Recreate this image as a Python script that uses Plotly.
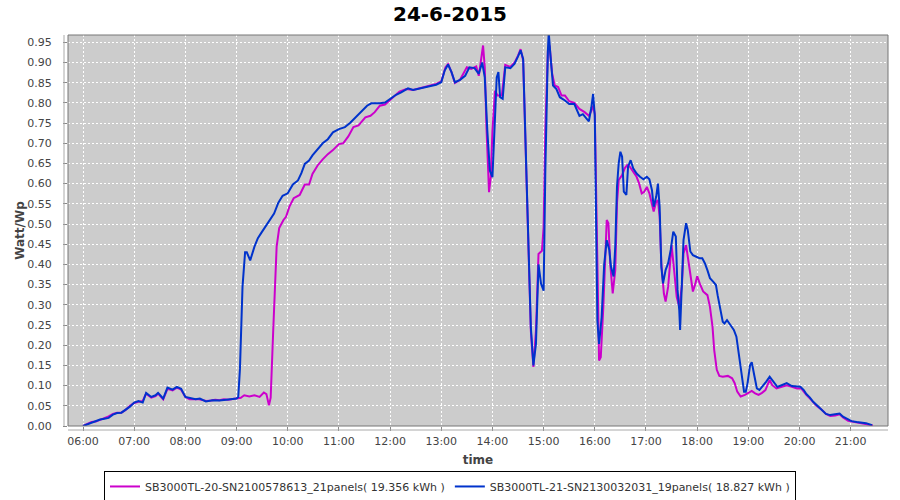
import plotly.graph_objects as go

DAY = "2015-06-24 "
TITLE = "24-6-2015"
NAME_M = "SB3000TL-20-SN2100578613_21panels( 19.356 kWh )"
NAME_B = "SB3000TL-21-SN2130032031_19panels( 18.827 kWh )"

m_time = ["06:00","06:05","06:10","06:15","06:20","06:25","06:30","06:35","06:40","06:45","06:50","06:55",
          "07:00","07:05","07:10","07:14","07:20","07:25","07:28","07:34","07:39","07:45","07:50","07:55",
          "08:00","08:05","08:10","08:15","08:20","08:25","08:30","08:35","08:40","08:45","08:50","08:55",
          "09:00","09:05","09:09","09:15","09:21","09:27","09:32","09:35","09:38","09:40","09:43","09:45","09:47","09:50","09:55","09:58",
          "10:02","10:07","10:14","10:20","10:25","10:29","10:35","10:41","10:47","10:53",
          "11:00","11:05","11:11","11:17","11:23","11:31","11:37","11:42","11:48","11:54",
          "12:00","12:05","12:11","12:19","12:27","12:36","12:46","12:54",
          "13:00","13:05","13:08","13:12","13:16","13:22","13:30","13:35","13:41","13:44","13:49","13:51","13:53","13:56","13:58",
          "14:00","14:03","14:06","14:11","14:15","14:21","14:26","14:30","14:33","14:36","14:39","14:42","14:45","14:48","14:51","14:54","14:58",
          "15:00","15:02","15:05","15:07","15:10","15:13","15:17","15:21","15:25","15:30","15:36","15:42","15:48","15:53","15:56","15:58",
          "16:00","16:01","16:03","16:05","16:07","16:10","16:14","16:16","16:18","16:21","16:24","16:26","16:28","16:32","16:35","16:38","16:41","16:45","16:49","16:52","16:55","16:58",
          "17:01","17:04","17:07","17:09","17:12","17:14","17:16","17:18","17:21","17:23","17:26","17:28","17:30","17:33","17:36","17:39","17:42","17:44","17:47","17:49","17:52","17:55","17:58",
          "18:00","18:03","18:07","18:12","18:15","18:18","18:20","18:23","18:26","18:30","18:36","18:41","18:44","18:47","18:51","18:56",
          "19:00","19:04","19:08","19:12","19:16","19:20","19:25","19:28","19:33","19:39","19:45","19:51","19:57",
          "20:02","20:08","20:14","20:20","20:26","20:31","20:36","20:42","20:47","20:51","20:57",
          "21:03","21:11","21:19","21:26"]
m_val = [0.000,0.006,0.010,0.011,0.015,0.018,0.024,0.030,0.033,0.033,0.040,0.050,
         0.057,0.060,0.062,0.080,0.070,0.074,0.080,0.066,0.092,0.088,0.095,0.090,
         0.072,0.066,0.066,0.067,0.064,0.062,0.063,0.065,0.064,0.066,0.065,0.067,
         0.068,0.070,0.076,0.073,0.076,0.072,0.083,0.079,0.051,0.070,0.237,0.336,0.444,0.490,0.510,0.518,
         0.543,0.564,0.572,0.598,0.598,0.624,0.645,0.660,0.673,0.683,
         0.698,0.700,0.717,0.740,0.744,0.764,0.768,0.777,0.793,0.796,
         0.807,0.818,0.828,0.834,0.832,0.837,0.843,0.847,
         0.853,0.888,0.896,0.876,0.849,0.857,0.888,0.884,0.890,0.867,0.942,0.888,0.740,0.579,0.616,
         0.731,0.830,0.818,0.818,0.894,0.889,0.900,0.917,0.933,0.905,0.690,0.443,0.236,0.146,0.236,0.426,0.434,
         0.492,0.731,0.929,0.942,0.872,0.843,0.839,0.818,0.818,0.804,0.800,0.785,0.777,0.768,0.780,0.793,
         0.773,0.632,0.401,0.162,0.170,0.295,0.510,0.502,0.403,0.328,0.386,0.551,0.609,0.621,0.638,0.646,0.642,0.630,0.617,0.600,0.576,0.580,
         0.592,0.576,0.547,0.531,0.555,0.559,0.518,0.403,0.328,0.308,0.345,0.403,0.448,0.386,0.320,0.295,0.345,0.427,0.448,0.419,0.370,0.333,0.353,
         0.371,0.353,0.333,0.324,0.295,0.246,0.188,0.139,0.124,0.122,0.124,0.118,0.106,0.085,0.073,0.077,
         0.081,0.087,0.081,0.077,0.082,0.089,0.114,0.101,0.093,0.097,0.101,0.097,0.093,
         0.093,0.077,0.064,0.050,0.040,0.030,0.025,0.026,0.029,0.021,0.013,
         0.011,0.007,0.004,0.001]

b_time = ["06:00","06:05","06:10","06:15","06:20","06:25","06:30","06:35","06:40","06:45","06:50","06:55",
          "07:00","07:05","07:10","07:14","07:20","07:25","07:28","07:34","07:39","07:45","07:50","07:55",
          "08:00","08:07","08:12","08:17","08:24","08:32","08:40","08:48","08:55",
          "09:00","09:02","09:04","09:07","09:10","09:12","09:16","09:21","09:25","09:29","09:35","09:40","09:44","09:49","09:54",
          "10:00","10:06","10:12","10:16","10:20","10:25","10:29","10:35","10:41","10:47","10:53",
          "11:00","11:07","11:13","11:19","11:25","11:33","11:38","11:48","11:54",
          "12:00","12:07","12:13","12:21","12:27","12:36","12:46","12:54",
          "13:00","13:04","13:08","13:12","13:16","13:22","13:28","13:33","13:39","13:44","13:48","13:51","13:54","13:57",
          "14:00","14:02","14:05","14:07","14:09","14:12","14:15","14:21","14:26","14:30","14:33","14:36","14:39","14:42","14:45","14:48","14:51","14:54","14:57",
          "15:00","15:02","15:05","15:06","15:08","15:11","15:15","15:19","15:25","15:30","15:36","15:42","15:46","15:49","15:53","15:56","15:58",
          "16:00","16:01","16:03","16:05","16:08","16:11","16:14","16:17","16:19","16:22","16:24","16:26","16:28","16:30","16:32","16:34","16:37","16:39","16:42","16:45","16:49","16:53","16:57",
          "17:01","17:04","17:07","17:09","17:12","17:14","17:16","17:18","17:20","17:23","17:26","17:29","17:32","17:35","17:37","17:39","17:40","17:42","17:44","17:47","17:49","17:52","17:55","17:59",
          "18:03","18:06","18:09","18:12","18:15","18:19","18:22","18:24","18:27","18:30","18:32","18:35","18:39","18:43","18:46","18:49","18:52","18:55","18:57","18:59",
          "19:02","19:04","19:07","19:10","19:13","19:17","19:21","19:25","19:29","19:34","19:39","19:45","19:51","19:57",
          "20:01","20:05","20:08","20:12","20:16","20:21","20:26","20:31","20:36","20:42","20:47","20:51","20:56",
          "21:01","21:07","21:13","21:18","21:25"]
b_val = [0.000,0.004,0.008,0.012,0.016,0.018,0.020,0.028,0.032,0.033,0.040,0.048,
         0.058,0.062,0.058,0.082,0.072,0.076,0.082,0.068,0.095,0.090,0.097,0.092,
         0.072,0.068,0.066,0.068,0.061,0.064,0.063,0.065,0.066,
         0.068,0.072,0.142,0.345,0.430,0.430,0.410,0.444,0.465,0.478,0.497,0.510,0.526,0.553,0.570,
         0.576,0.598,0.608,0.626,0.649,0.657,0.670,0.686,0.700,0.710,0.727,
         0.735,0.740,0.750,0.763,0.777,0.793,0.799,0.799,0.801,
         0.810,0.820,0.826,0.836,0.832,0.836,0.840,0.845,
         0.851,0.880,0.895,0.876,0.851,0.857,0.867,0.888,0.886,0.872,0.900,0.863,0.731,0.632,
         0.616,0.707,0.863,0.876,0.814,0.810,0.888,0.886,0.897,0.915,0.930,0.909,0.690,0.443,0.245,0.150,0.203,0.400,0.352,
         0.335,0.632,0.929,0.975,0.917,0.843,0.834,0.814,0.806,0.797,0.797,0.768,0.772,0.765,0.754,0.789,0.822,
         0.768,0.566,0.261,0.203,0.269,0.400,0.460,0.436,0.394,0.370,0.444,0.592,0.650,0.679,0.667,0.580,0.572,0.642,0.658,0.638,0.625,0.617,0.611,
         0.617,0.611,0.584,0.543,0.568,0.600,0.543,0.394,0.353,0.386,0.403,0.436,0.481,0.469,0.337,0.287,0.238,0.345,0.460,0.502,0.485,0.432,0.423,0.419,
         0.415,0.415,0.403,0.386,0.366,0.357,0.349,0.324,0.287,0.258,0.254,0.262,0.250,0.238,0.221,0.172,0.122,0.085,0.085,0.105,
         0.150,0.158,0.125,0.093,0.089,0.099,0.110,0.122,0.110,0.097,0.101,0.106,0.099,0.097,
         0.097,0.089,0.079,0.071,0.060,0.050,0.040,0.030,0.027,0.029,0.031,0.023,0.017,
         0.012,0.010,0.008,0.007,0.002]

Y_TICKS = [round(i * 0.05, 2) for i in range(20)]
X_TICK_TIMES = ["%02d:00" % h for h in range(6, 22)]

FONT = "DejaVu Sans"
MAGENTA = "#CC00CC"
BLUE = "#0033CC"
TXT = "#444444"

fig = go.Figure()
fig.add_trace(go.Scatter(x=[DAY + t for t in m_time], y=m_val, mode="lines", name=NAME_M,
                         line=dict(color=MAGENTA, width=2)))
fig.add_trace(go.Scatter(x=[DAY + t for t in b_time], y=b_val, mode="lines", name=NAME_B,
                         line=dict(color=BLUE, width=2)))

fig.update_layout(
    width=900, height=500,
    margin=dict(l=68, r=12, t=35, b=74, autoexpand=False),
    paper_bgcolor="white",
    plot_bgcolor="#CCCCCC",
    font=dict(family=FONT, size=11, color=TXT),
    title=dict(text="<b>" + TITLE + "</b>", x=0.5, xanchor="center", y=0.972, yanchor="middle",
               font=dict(family=FONT, size=20, color="black")),
    showlegend=True,
    legend=dict(orientation="h", xref="paper", yref="paper", x=(450 - 68) / 820, xanchor="center",
                y=-0.115, yanchor="top", bgcolor="white", bordercolor="black", borderwidth=1,
                font=dict(family=FONT, size=11, color="#333333"), itemwidth=30,
                tracegroupgap=0),
    xaxis=dict(
        type="date", automargin=False,
        range=[DAY + "05:42:24", DAY + "21:43:44"],
        tickvals=[DAY + t for t in X_TICK_TIMES],
        ticktext=X_TICK_TIMES,
        showgrid=True, gridcolor="white", griddash="2px,2px", gridwidth=1,
        ticks="outside", ticklen=4, tickcolor="#888888", ticklabelstandoff=1,
        zeroline=False, showline=False,
        title=dict(text="<b>time</b>", font=dict(family=FONT, size=12, color=TXT), standoff=8),
        tickfont=dict(family=FONT, size=11, color=TXT),
    ),
    yaxis=dict(
        automargin=False,
        range=[0, 0.968],
        tickvals=Y_TICKS,
        ticktext=["%.2f" % v for v in Y_TICKS],
        showgrid=True, gridcolor="white", griddash="2px,2px", gridwidth=1,
        ticks="outside", ticklen=4, tickcolor="#888888", ticklabelstandoff=9,
        zeroline=False, showline=False,
        title=dict(text="<b>Watt/Wp</b>", font=dict(family=FONT, size=12, color=TXT), standoff=0),
        tickfont=dict(family=FONT, size=11, color=TXT),
    ),
)

# plot border
fig.add_shape(type="rect", xref="paper", yref="paper", x0=0, y0=0, x1=1, y1=1,
              line=dict(color="#777777", width=1), fillcolor="rgba(0,0,0,0)", layer="above")
# offset axis lines (JFreeChart style)
fig.add_shape(type="line", xref="paper", yref="paper", x0=-4/820, x1=-4/820, y0=0, y1=1,
              line=dict(color="#AAAAAA", width=1))
fig.add_shape(type="line", xref="paper", yref="paper", x0=0, x1=1, y0=-4/391, y1=-4/391,
              line=dict(color="#AAAAAA", width=1))

fig.write_html("out.html", config={"displayModeBar": False},
               post_script="document.body.style.margin='0';document.body.style.overflow='hidden';")
